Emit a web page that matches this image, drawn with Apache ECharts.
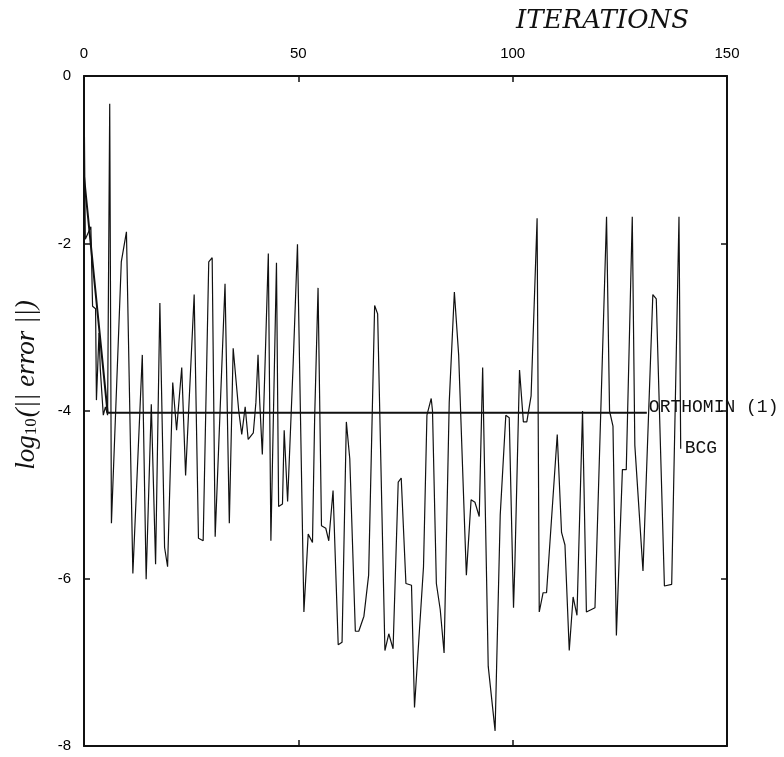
<!DOCTYPE html>
<html>
<head>
<meta charset="utf-8">
<script src="https://cdn.jsdelivr.net/npm/echarts@6/dist/echarts.min.js"></script>
<style>
  html, body { margin: 0; padding: 0; background: #fff; }
  #main { width: 784px; height: 757px; }
</style>
</head>
<body>
<div id="main"></div>
<script>
// iterations (x) and log10 error (y)
var bcgIter = [0, 0.3, 1.6, 2.0, 2.7, 2.9, 3.5, 3.8, 4.5, 5.0, 5.5, 6.0, 6.4,
  8.7, 9.9, 11.4, 13.6, 14.5, 15.7, 16.7, 17.7, 18.8, 19.5, 20.7, 21.6, 22.8, 23.7,
  25.7, 26.7, 27.8, 29.1, 29.9, 30.6, 32.9, 33.9, 34.8, 36.1, 36.8, 37.6,
  38.3, 39.5, 40.1, 40.6, 41.0, 41.6, 42.3, 43.0, 43.6, 44.9, 45.4, 46.3, 46.7, 47.5,
  48.8, 49.8, 51.3, 52.3, 53.3, 53.8, 54.6, 55.4, 56.4, 57.1, 58.1, 59.3, 60.2,
  61.2, 62.0, 63.3, 64.1, 65.3, 66.4, 67.8, 68.5, 70.2, 71.1, 72.1, 73.3, 74.0,
  75.1, 76.4, 77.1, 79.2, 80.0, 81.0, 81.3, 82.2, 83.1, 84.0, 85.2, 86.4, 87.4,
  88.8, 89.2, 90.3, 91.2, 92.2, 93.0, 94.3, 95.9, 97.1, 98.4, 99.2, 100.2, 100.5,
  101.6, 102.5, 103.3, 104.3, 105.7, 106.2, 107.1, 107.9, 110.4, 111.4, 112.2,
  113.2, 114.1, 115.0, 116.3, 117.2, 119.2, 121.9, 122.6, 123.4, 124.2, 125.6,
  126.5, 127.9, 128.5, 130.4, 132.7, 133.5, 135.4, 137.1, 138.8, 139.2];
var bcgErr = [-0.1, -1.95, -1.8, -2.75, -2.78, -3.87, -3.07, -3.5, -4.05, -3.95, -4.05, -0.33, -5.34,
  -2.22, -1.86, -5.94, -3.33, -6.01, -3.92, -5.83, -2.71, -5.63, -5.86, -3.66, -4.23, -3.48, -4.77,
  -2.61, -5.52, -5.55, -2.22, -2.17, -5.5, -2.48, -5.34, -3.25, -4.0, -4.28, -3.95,
  -4.34, -4.26, -3.9, -3.33, -3.9, -4.52, -3.33, -2.12, -5.55, -2.23, -5.14, -5.11, -4.23, -5.08,
  -3.43, -2.01, -6.4, -5.47, -5.57, -4.1, -2.53, -5.37, -5.4, -5.55, -4.95, -6.79, -6.76,
  -4.13, -4.57, -6.63, -6.63, -6.45, -5.96, -2.74, -2.84, -6.86, -6.66, -6.84, -4.85, -4.8,
  -6.06, -6.08, -7.54, -5.86, -4.05, -3.85, -4.0, -6.06, -6.37, -6.89, -3.9, -2.58, -3.33,
  -5.39, -5.96, -5.06, -5.09, -5.26, -3.48, -7.05, -7.82, -5.24, -4.05, -4.08, -6.35, -5.86,
  -3.51, -4.13, -4.13, -3.82, -1.7, -6.4, -6.17, -6.17, -4.28, -5.45, -5.6,
  -6.86, -6.22, -6.44, -4.0, -6.4, -6.35, -1.68, -4.0, -4.18, -6.68, -4.7,
  -4.7, -1.68, -4.41, -5.91, -2.61, -2.66, -6.09, -6.07, -1.68, -4.45];

var orthoIter = [0, 5.5, 131.3];
var orthoErr = [-1.2, -4.02, -4.02];

var xTicks = [0, 50, 100, 150];
var yTicks = [0, -2, -4, -6, -8];

function pairs(xs, ys) {
  var out = [];
  for (var i = 0; i < xs.length; i++) out.push([xs[i], ys[i]]);
  return out;
}

var ink = '#111';
var myChart = echarts.init(document.getElementById('main'), null, { renderer: 'canvas' });

var axisBase = {
  type: 'value',
  splitLine: { show: false },
  axisLine: { show: true, onZero: false, lineStyle: { color: ink, width: 2 } },
  axisTick: { show: true, inside: true, length: 6, lineStyle: { color: ink, width: 1.5 } }
};

myChart.setOption({
  animation: false,
  backgroundColor: '#fff',
  grid: { left: 84, right: 57, top: 76, bottom: 11 },
  xAxis: [
    Object.assign({}, axisBase, {
      position: 'top',
      min: xTicks[0], max: xTicks[xTicks.length - 1], interval: 50,
      axisLabel: { color: '#000', fontFamily: 'Liberation Sans', fontSize: 15, margin: 15 }
    }),
    Object.assign({}, axisBase, {
      position: 'bottom',
      min: xTicks[0], max: xTicks[xTicks.length - 1], interval: 50,
      axisLabel: { show: false }
    })
  ],
  yAxis: [
    Object.assign({}, axisBase, {
      position: 'left',
      min: yTicks[yTicks.length - 1], max: yTicks[0], interval: 2,
      axisLabel: { color: '#000', fontFamily: 'Liberation Sans', fontSize: 15, margin: 13 }
    }),
    Object.assign({}, axisBase, {
      position: 'right',
      min: yTicks[yTicks.length - 1], max: yTicks[0], interval: 2,
      axisLabel: { show: false }
    })
  ],
  graphic: [
    {
      type: 'text', left: 516, top: 8,
      style: {
        text: 'ITERATIONS', fill: ink,
        font: 'italic 26px "DejaVu Serif"'
      }
    },
    {
      type: 'text', x: 27, y: 385, rotation: Math.PI / 2,
      style: {
        text: '{i|log}{s|10}{i|(|| error ||)}',
        align: 'center', verticalAlign: 'middle',
        rich: {
          i: { fontFamily: 'Liberation Serif', fontStyle: 'italic', fontSize: 27, fill: ink },
          s: { fontFamily: 'Liberation Serif', fontSize: 17, fill: ink, padding: [10, 1, 0, 0] }
        }
      }
    }
  ],
  series: [
    {
      name: 'ORTHOMIN (1)',
      type: 'line',
      symbol: 'none',
      data: pairs(orthoIter, orthoErr),
      lineStyle: { color: ink, width: 2 },
      endLabel: {
        show: true, formatter: 'ORTHOMIN (1)', distance: 2, offset: [0, -5],
        color: ink, fontFamily: 'Liberation Mono', fontSize: 18
      },
      z: 3
    },
    {
      name: 'BCG',
      type: 'line',
      symbol: 'none',
      data: pairs(bcgIter, bcgErr),
      lineStyle: { color: ink, width: 1.2 },
      endLabel: {
        show: true, formatter: 'BCG', distance: 4,
        color: ink, fontFamily: 'Liberation Mono', fontSize: 18
      },
      z: 2
    }
  ]
});
</script>
</body>
</html>
